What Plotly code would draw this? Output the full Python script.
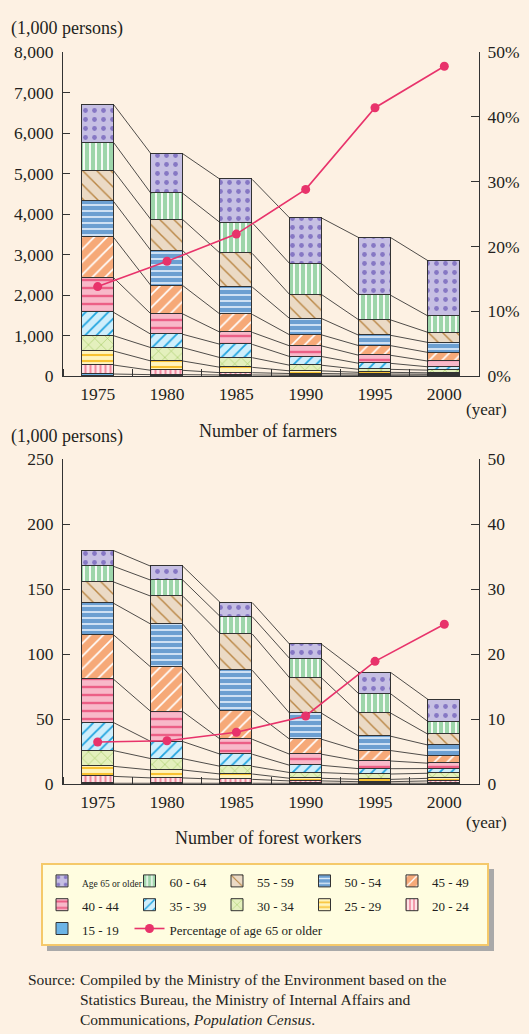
import plotly.graph_objects as go

# ---------------- data ----------------
years = [1975, 1980, 1985, 1990, 1995, 2000]
group_names = ["15 - 19", "20 - 24", "25 - 29", "30 - 34", "35 - 39", "40 - 44",
               "45 - 49", "50 - 54", "55 - 59", "60 - 64", "Age 65 or older"]

# Number of farmers (1,000 persons)
farm_15_19 = [49, 33, 25, 20, 16, 20]
farm_20_24 = [222, 107, 57, 41, 33, 25]
farm_25_29 = [346, 230, 132, 66, 41, 33]
farm_30_34 = [378, 329, 238, 139, 74, 66]
farm_35_39 = [576, 329, 329, 214, 148, 82]
farm_40_44 = [855, 502, 296, 263, 198, 140]
farm_45_49 = [995, 699, 444, 272, 238, 214]
farm_50_54 = [888, 863, 675, 403, 255, 247]
farm_55_59 = [757, 765, 830, 592, 379, 246]
farm_60_64 = [699, 650, 757, 765, 608, 403]
farm_65_up = [937, 978, 1069, 1126, 1423, 1365]
farm_pct65 = [13.8, 17.7, 21.9, 28.8, 41.4, 47.8]

# Number of forest workers (1,000 persons)
forest_15_19 = [0.8, 0.8, 0.8, 0.8, 0.8, 0.8]
forest_20_24 = [5.3, 4.1, 3.0, 1.8, 1.2, 1.8]
forest_25_29 = [7.7, 6.1, 4.1, 2.0, 1.8, 2.0]
forest_30_34 = [12.1, 8.7, 5.9, 4.4, 4.1, 3.9]
forest_35_39 = [21.5, 13.1, 9.3, 5.6, 4.1, 3.6]
forest_40_44 = [33.3, 23.0, 11.5, 8.5, 5.9, 4.1]
forest_45_49 = [34.1, 34.1, 22.0, 11.5, 8.0, 5.7]
forest_50_54 = [24.3, 33.1, 31.0, 20.0, 11.0, 8.2]
forest_55_59 = [16.4, 21.5, 27.9, 27.1, 17.7, 8.2]
forest_60_64 = [12.0, 12.3, 13.3, 14.9, 14.8, 9.7]
forest_65_up = [12.1, 10.7, 10.8, 11.0, 16.4, 17.0]
forest_pct65 = [6.5, 6.7, 8.0, 10.5, 18.9, 24.6]

farm_ticks = [0, 1000, 2000, 3000, 4000, 5000, 6000, 7000, 8000]
forest_ticks = [0, 50, 100, 150, 200, 250]
pct_ticks = [0, 10, 20, 30, 40, 50]
pct_ticktext_farm = ["0%", "10%", "20%", "30%", "40%", "50%"]
pct_ticktext_forest = ["0", "10", "20", "30", "40", "50"]

farm_series = [farm_15_19, farm_20_24, farm_25_29, farm_30_34, farm_35_39, farm_40_44,
               farm_45_49, farm_50_54, farm_55_59, farm_60_64, farm_65_up]
forest_series = [forest_15_19, forest_20_24, forest_25_29, forest_30_34, forest_35_39,
                 forest_40_44, forest_45_49, forest_50_54, forest_55_59, forest_60_64,
                 forest_65_up]

# ---------------- styles ----------------
# (bg colour, pattern shape, pattern colour, pattern size, solidity)
styles = [
    ("#6cb4e6", "", "#6cb4e6", 6, 0.3),
    ("#fde3e6", "|", "#f2899e", 5, 0.4),
    ("#fff4bd", "-", "#f8c232", 6, 0.35),
    ("#e4f0bd", "x", "#9cc65a", 9, 0.12),
    ("#cfeefb", "/", "#1ea3df", 8, 0.22),
    ("#f8b9c9", "-", "#ec5f86", 8, 0.3),
    ("#f6a978", "/", "#ffffff", 9, 0.18),
    ("#6c9fd1", "-", "#d9e8f7", 6, 0.3),
    ("#ebdac5", "\\", "#b98644", 10, 0.14),
    ("#9dd5aa", "|", "#ffffff", 6, 0.3),
    ("#c6bfe3", ".", "#8677c4", 9, 0.22),
]
legend_rank = [11, 10, 9, 8, 7, 6, 5, 4, 3, 2, 1]

BG = "#fdf1e3"
INK = "#231f20"
LINE_RED = "#e8336b"
FONT = "Liberation Serif"

W, H = 529, 1034
ML, MR = 40, 40
PW = W - ML - MR


def fx(px):
    return (px - ML) / PW


def fy(py):
    return 1 - py / H


BAR_W = 2.3

fig = go.Figure()


def add_chart(series, pct, xa, ya, ya2, show_legend):
    for i, (vals, st) in enumerate(zip(series, styles)):
        bg, shape, fg, size, sol = st
        name = group_names[i]
        fs = 9.5 if name == "Age 65 or older" else 13
        name = "<span style='font-size:%spx'>%s</span>" % (fs, name)
        fig.add_trace(go.Bar(
            x=years, y=vals, width=BAR_W, name=name, xaxis=xa, yaxis=ya,
            marker=dict(color=bg, line=dict(color="#333333", width=1),
                        pattern=dict(shape=shape, fgcolor=fg, bgcolor=bg, size=size,
                                     solidity=sol, fillmode="replace")),
            showlegend=show_legend, legendrank=legend_rank[i], hoverinfo="skip",
        ))
    # connector lines between cumulative boundaries
    cx, cy = [], []
    cum = [0] * len(years)
    for vals in series:
        cum = [c + v for c, v in zip(cum, vals)]
        for j in range(len(years) - 1):
            cx += [years[j] + BAR_W / 2, years[j + 1] - BAR_W / 2, None]
            cy += [cum[j], cum[j + 1], None]
    fig.add_trace(go.Scatter(x=cx, y=cy, mode="lines", xaxis=xa, yaxis=ya,
                             line=dict(color="#222222", width=0.8),
                             showlegend=False, hoverinfo="skip"))
    fig.add_trace(go.Scatter(
        x=years, y=pct, mode="lines+markers", xaxis=xa, yaxis=ya2,
        name="<span style='font-size:13px'>Percentage of age 65 or older</span>",
        line=dict(color=LINE_RED, width=1.6),
        marker=dict(color=LINE_RED, size=9),
        showlegend=show_legend, legendrank=12, hoverinfo="skip",
    ))


add_chart(farm_series, farm_pct65, "x", "y", "y2", True)
add_chart(forest_series, forest_pct65, "x2", "y3", "y4", False)

xdom = [fx(63), fx(479)]
top_dom = [fy(376), fy(52)]
bot_dom = [fy(784.3), fy(459)]

axis_common = dict(showgrid=False, zeroline=False, showline=True, linecolor="#333333",
                   linewidth=1.2, automargin=False,
                   tickfont=dict(family=FONT, size=17.5, color=INK))

xcommon = dict(axis_common, range=[1972.5, 2002.5], tickvals=years,
               ticktext=[str(y) for y in years], ticks="", ticklabelstandoff=2,
               minor=dict(ticks="inside", tick0=1977.5, dtick=5, ticklen=7,
                          tickcolor="#333333", tickwidth=1))

fig.update_layout(
    width=W, height=H, margin=dict(l=ML, r=MR, t=0, b=0, autoexpand=False),
    paper_bgcolor=BG, plot_bgcolor=BG, barmode="stack", bargap=0,
    font=dict(family=FONT, color=INK),
    xaxis=dict(xcommon, domain=xdom, anchor="y"),
    yaxis=dict(axis_common, domain=top_dom, range=[0, 8000], tickvals=farm_ticks,
               tickformat=",d", ticks="inside", ticklen=7, tickcolor="#333333",
               ticklabelstandoff=5, anchor="x"),
    yaxis2=dict(axis_common, overlaying="y", side="right", range=[0, 50],
                tickvals=pct_ticks, ticktext=pct_ticktext_farm, ticks="inside",
                ticklen=8, tickcolor="#333333", ticklabelstandoff=4, anchor="x"),
    xaxis2=dict(xcommon, domain=xdom, anchor="y3"),
    yaxis3=dict(axis_common, domain=bot_dom, range=[0, 250], tickvals=forest_ticks,
                ticks="inside", ticklen=7, tickcolor="#333333", ticklabelstandoff=5,
                anchor="x2"),
    yaxis4=dict(axis_common, overlaying="y3", side="right", range=[0, 50],
                tickvals=pct_ticks, ticktext=pct_ticktext_forest, ticks="inside",
                ticklen=8, tickcolor="#333333", ticklabelstandoff=4, anchor="x2"),
    legend=dict(orientation="h", x=fx(42), y=fy(864), xanchor="left", yanchor="top",
                bgcolor="rgba(0,0,0,0)", borderwidth=0,
                font=dict(family=FONT, size=16, color=INK), entrywidth=42.5,
                traceorder="normal", tracegroupgap=0),
)

# legend box and shadow
fig.add_shape(type="rect", xref="paper", yref="paper", x0=fx(47), x1=fx(494),
              y0=fy(951), y1=fy(869), fillcolor="#a9a9a9", line=dict(width=0),
              layer="below")
fig.add_shape(type="rect", xref="paper", yref="paper", x0=fx(42), x1=fx(488),
              y0=fy(945), y1=fy(864), fillcolor="#fffde0",
              line=dict(width=2, color="#f5c96a"), layer="below")

ann = []


def text(s, x, y, size, xanchor="left", yanchor="middle"):
    ann.append(dict(text=s, x=fx(x), y=fy(y), xref="paper", yref="paper",
                    showarrow=False, xanchor=xanchor, yanchor=yanchor,
                    font=dict(family=FONT, size=size, color=INK), align="left"))


text("(1,000 persons)", 9, 28, 18)
text("(year)", 509, 409, 17, xanchor="right")
text("Number of farmers", 268, 431, 18, xanchor="center")
text("(1,000 persons)", 9, 436, 18)
text("(year)", 509, 822, 17, xanchor="right")
text("Number of forest workers", 268, 838, 18, xanchor="center")
text("Source:", 26, 980, 15.5)
text("Compiled by the Ministry of the Environment based on the<br>"
     "Statistics Bureau, the Ministry of Internal Affairs and<br>"
     "Communications, <i>Population Census</i>.", 78, 999, 15.5)
fig.update_layout(annotations=ann)

fig.write_html("out.html", config={"displayModeBar": False},
               post_script="document.body.style.margin='0';")
